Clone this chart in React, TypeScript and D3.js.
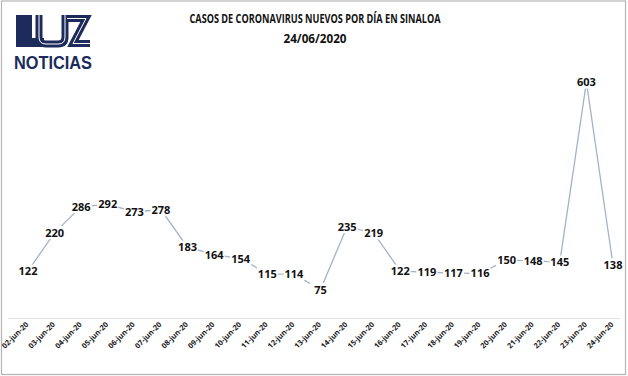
import React from "react";
import * as d3 from "d3";

const dates = ["02-jun-20","03-jun-20","04-jun-20","05-jun-20","06-jun-20","07-jun-20","08-jun-20","09-jun-20","10-jun-20","11-jun-20","12-jun-20","13-jun-20","14-jun-20","15-jun-20","16-jun-20","17-jun-20","18-jun-20","19-jun-20","20-jun-20","21-jun-20","22-jun-20","23-jun-20","24-jun-20"];
const cases = [122,220,286,292,273,278,183,164,154,115,114,75,235,219,122,119,117,116,150,148,145,603,138];
const titleLine1 = "CASOS DE CORONAVIRUS NUEVOS POR DÍA EN SINALOA";
const titleLine2 = "24/06/2020";

const W = 628, H = 376;
const NAVY = "#1c2b5b";

export default function App() {
  const x = d3.scalePoint<string>().domain(dates).range([28, 613]);
  const y = d3.scaleLinear().domain([0, 700]).range([319, 44]);
  const line = d3.line<number>().x((_, i) => x(dates[i])!).y(d => y(d));
  const font = "'Open Sans', Lato, sans-serif";
  const narrow = "'Liberation Sans Narrow', 'Open Sans', sans-serif";

  return (
    <div style={{ position: "absolute", left: 0, top: 0 }}>
      <svg width={W} height={H} style={{ display: "block", background: "#fff" }}>
        <rect x={1.5} y={1} width={624} height={373.5} fill="#fff" stroke="#b4b4b4" strokeWidth={1.2} />
        {/* logo */}
        <g>
          <path d="M16,15 H32 V38 H44 V47 H16 Z" fill={NAVY} />
          <path d="M39,15 V37 Q39,44 46,44 H58 Q65,44 65,37 V15" fill="none" stroke={NAVY} strokeWidth={7} />
          <path d="M39,15 V37 Q39,44 46,44 H58 Q65,44 65,37 V15" fill="none" stroke="#fff" strokeWidth={1} />
          <path d="M67,18.5 H86 L73,43.5 H90" fill="none" stroke={NAVY} strokeWidth={7} strokeLinejoin="miter" />
          <path d="M67,18.5 H86 L73,43.5 H90" fill="none" stroke="#fff" strokeWidth={1} />
          <text x={14} y={69} fill={NAVY} fontFamily="'Liberation Sans', Arial, sans-serif" fontWeight={700} fontSize={18} textLength={78} lengthAdjust="spacingAndGlyphs">NOTICIAS</text>
        </g>
        {/* title */}
        <text x={315} y={22.5} textAnchor="middle" fontFamily={narrow} fontWeight={700} fontSize={12.5} fill="#111" textLength={251} lengthAdjust="spacingAndGlyphs">{titleLine1}</text>
        <text x={315} y={43} textAnchor="middle" fontFamily={narrow} fontWeight={700} fontSize={13} fill="#111" textLength={63} lengthAdjust="spacingAndGlyphs">{titleLine2}</text>
        {/* baseline */}
        <line x1={8} x2={620} y1={318.5} y2={318.5} stroke="#e2e2e2" strokeWidth={1} />
        {/* line */}
        <path d={line(cases) || ""} fill="none" stroke="#a3b3c8" strokeWidth={1.3} />
        {/* labels */}
        {cases.map((v, i) => {
          const cx = x(dates[i])!;
          const cy = y(v);
          const s = String(v);
          return (
            <g key={i}>
              <rect x={cx - 10.5} y={cy - 6.5} width={21} height={13} fill="#fff" />
              <text x={cx} y={cy + 4} textAnchor="middle" fontFamily={font} fontWeight={700} fontSize={10.5} fill="#111" textLength={s.length * 6.3} lengthAdjust="spacingAndGlyphs">{s}</text>
            </g>
          );
        })}
        {/* x labels */}
        {dates.map((d) => {
          const cx = x(d)! + 1;
          return (
            <text key={d} transform={`translate(${cx},${325}) rotate(-45)`} textAnchor="end" fontFamily={font} fontWeight={700} fontSize={7.5} fill="#1a1a1a" textLength={34} lengthAdjust="spacingAndGlyphs">{d}</text>
          );
        })}
      </svg>
    </div>
  );
}
